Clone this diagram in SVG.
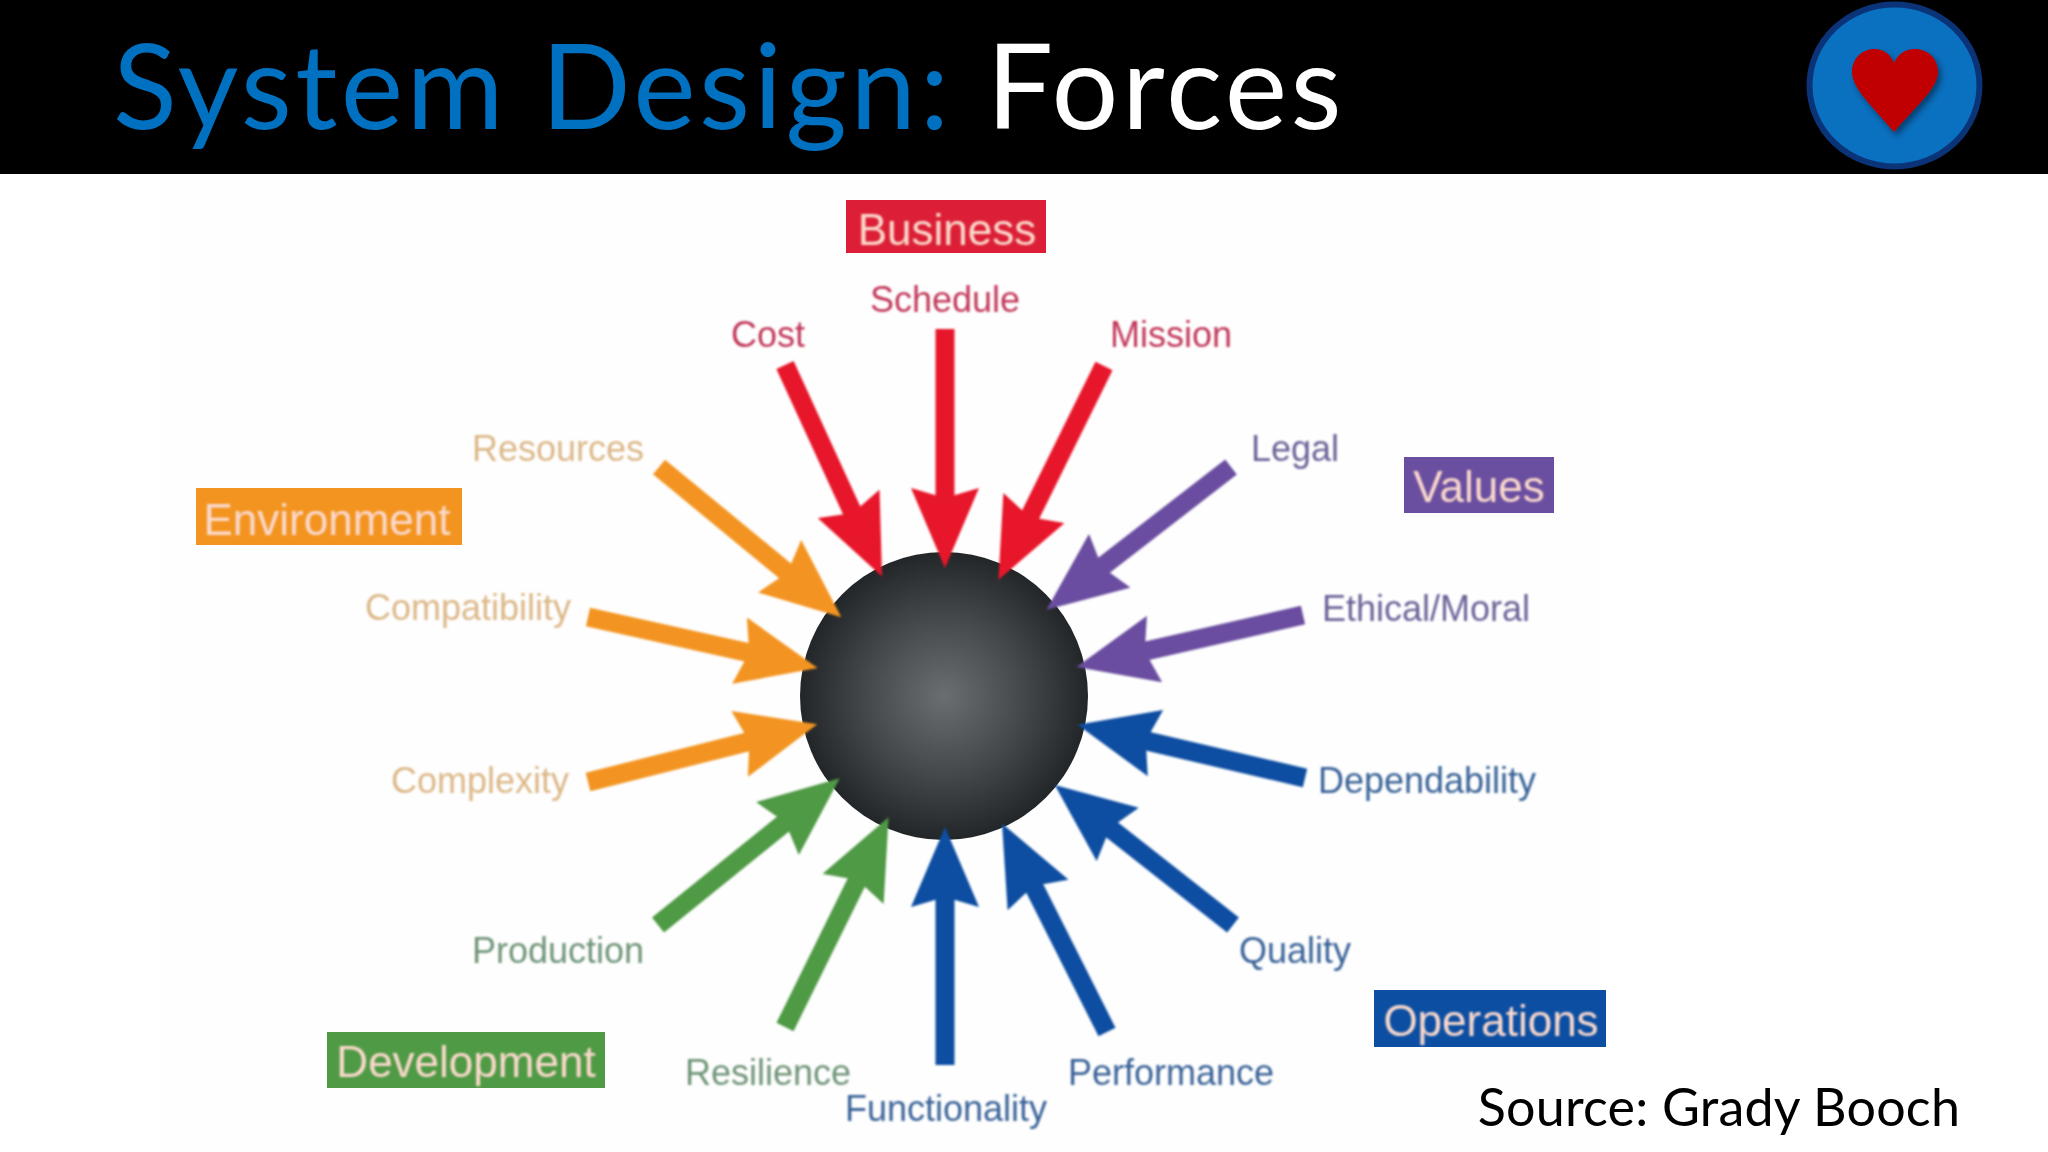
<svg xmlns="http://www.w3.org/2000/svg" width="2048" height="1152" viewBox="0 0 2048 1152">
<style>
text{font-family:"Liberation Sans",Arial,sans-serif;text-anchor:middle}
.lb{font-size:36px;filter:url(#soft)}
.cat{font-size:44px;filter:url(#soft)}
.catt{fill:#fbd9cc}
.red{fill:#c2395a}.org{fill:#dcb888}.pur{fill:#6a6398}.blu{fill:#3a6398}.grn{fill:#6f9478}
line{stroke-width:19;fill:none}
.r{stroke:#e8192c;marker-end:url(#mr)}
.o{stroke:#f39420;marker-end:url(#mo)}
.p{stroke:#6a4ea0;marker-end:url(#mp)}
.b{stroke:#0b4ea2;marker-end:url(#mb)}
.g{stroke:#4f9a45;marker-end:url(#mg)}
.title{font-family:Lato,"Open Sans",sans-serif;font-size:118px;text-anchor:start;letter-spacing:3.5px}
.src{font-family:Lato,"Open Sans",sans-serif;font-size:52px;letter-spacing:.2px;fill:#000}
</style>
<defs>
<filter id="soft" x="-5%" y="-20%" width="110%" height="140%"><feGaussianBlur stdDeviation="0.9"/></filter>
<filter id="soft2" filterUnits="userSpaceOnUse" x="0" y="0" width="2048" height="1152"><feGaussianBlur stdDeviation="0.9"/></filter>
<filter id="hs" x="-20%" y="-20%" width="140%" height="140%"><feDropShadow dx="3" dy="4" stdDeviation="3" flood-color="#000" flood-opacity=".45"/></filter>
<radialGradient id="ball"><stop offset="0" stop-color="#6b6e70"/><stop offset=".55" stop-color="#45484a"/><stop offset="1" stop-color="#232628"/></radialGradient>
<marker id="mr" markerUnits="userSpaceOnUse" markerWidth="80" markerHeight="68" viewBox="0 0 80 68" refX="20" refY="34" orient="auto"><path d="M80 34L0 0L10 34L0 68Z" fill="#e8192c"/></marker>
<marker id="mo" markerUnits="userSpaceOnUse" markerWidth="80" markerHeight="68" viewBox="0 0 80 68" refX="20" refY="34" orient="auto"><path d="M80 34L0 0L10 34L0 68Z" fill="#f39420"/></marker>
<marker id="mp" markerUnits="userSpaceOnUse" markerWidth="80" markerHeight="68" viewBox="0 0 80 68" refX="20" refY="34" orient="auto"><path d="M80 34L0 0L10 34L0 68Z" fill="#6a4ea0"/></marker>
<marker id="mb" markerUnits="userSpaceOnUse" markerWidth="80" markerHeight="68" viewBox="0 0 80 68" refX="20" refY="34" orient="auto"><path d="M80 34L0 0L10 34L0 68Z" fill="#0b4ea2"/></marker>
<marker id="mg" markerUnits="userSpaceOnUse" markerWidth="80" markerHeight="68" viewBox="0 0 80 68" refX="20" refY="34" orient="auto"><path d="M80 34L0 0L10 34L0 68Z" fill="#4f9a45"/></marker>
</defs>
<rect width="2048" height="1152" fill="#fff"/>
<rect x="160" y="174" width="1440" height="978" fill="#fefefe"/>
<g id="header">
<rect width="2048" height="174" fill="#000"/>
<text class="title" x="113" y="129"><tspan fill="#0070c0">System Design: </tspan><tspan fill="#fff">Forces</tspan></text>
<ellipse cx="1894.5" cy="85.500" rx="85" ry="81" fill="#0a70c0" stroke="#0a3378" stroke-width="6"/>
<path d="M1894 132C1872 106 1852 88 1852 72C1852 58 1863 49 1874 49C1884 49 1890 54 1894 63C1898 54 1905 49 1915 49C1927 49 1938 58 1938 72C1938 88 1916 106 1894 132Z" fill="#c00000" filter="url(#hs)"/>
</g>
<g id="hub"><circle cx="944" cy="696" r="144" fill="url(#ball)"/></g>
<g id="connectors" filter="url(#soft2)">
<line class="r" x1="785" y1="365" x2="857" y2="522"/>
<line class="r" x1="945" y1="329" x2="945" y2="508"/>
<line class="r" x1="1104" y1="366" x2="1025" y2="526"/>
<line class="p" x1="1231" y1="467" x2="1094" y2="573"/>
<line class="p" x1="1303" y1="615" x2="1135" y2="653.500"/>
<line class="b" x1="1305" y1="778" x2="1136" y2="738.500"/>
<line class="b" x1="1233" y1="925" x2="1102" y2="822"/>
<line class="b" x1="1107" y1="1032" x2="1029" y2="877"/>
<line class="b" x1="945" y1="1065" x2="945" y2="887"/>
<line class="g" x1="785" y1="1027" x2="862" y2="871"/>
<line class="g" x1="658" y1="925" x2="793" y2="816"/>
<line class="o" x1="588" y1="782" x2="759" y2="739"/>
<line class="o" x1="588" y1="617" x2="759" y2="655"/>
<line class="o" x1="659" y1="467" x2="795" y2="579"/>
</g>
<g id="business"><rect x="846" y="200" width="200" height="53" fill="#dc1f36"/><text class="cat catt" x="947" y="245">Business</text></g>
<g id="environment"><rect x="196" y="488" width="266" height="57" fill="#f39420"/><text class="cat catt" x="327" y="535">Environment</text></g>
<g id="values"><rect x="1404" y="457" width="150" height="56" fill="#6a4ea0"/><text class="cat catt" x="1479" y="502">Values</text></g>
<g id="operations"><rect x="1374" y="990" width="232" height="57" fill="#0b4ea2"/><text class="cat catt" x="1491" y="1036">Operations</text></g>
<g id="development"><rect x="327" y="1032" width="278" height="56" fill="#4f9a45"/><text class="cat catt" x="466" y="1077">Development</text></g>
<g id="cost"><text class="lb red" x="768" y="347">Cost</text></g>
<g id="schedule"><text class="lb red" x="945" y="312">Schedule</text></g>
<g id="mission"><text class="lb red" x="1171" y="347">Mission</text></g>
<g id="legal"><text class="lb pur" x="1295" y="461">Legal</text></g>
<g id="ethical"><text class="lb pur" x="1426" y="621">Ethical/Moral</text></g>
<g id="dependability"><text class="lb blu" x="1427" y="793">Dependability</text></g>
<g id="quality"><text class="lb blu" x="1295" y="963">Quality</text></g>
<g id="performance"><text class="lb blu" x="1171" y="1085">Performance</text></g>
<g id="functionality"><text class="lb blu" x="946" y="1121">Functionality</text></g>
<g id="resilience"><text class="lb grn" x="768" y="1085">Resilience</text></g>
<g id="production"><text class="lb grn" x="558" y="963">Production</text></g>
<g id="complexity"><text class="lb org" x="480" y="793">Complexity</text></g>
<g id="compatibility"><text class="lb org" x="468" y="620">Compatibility</text></g>
<g id="resources"><text class="lb org" x="558" y="461">Resources</text></g>
<text class="src" x="1719" y="1126">Source: Grady Booch</text>
</svg>
